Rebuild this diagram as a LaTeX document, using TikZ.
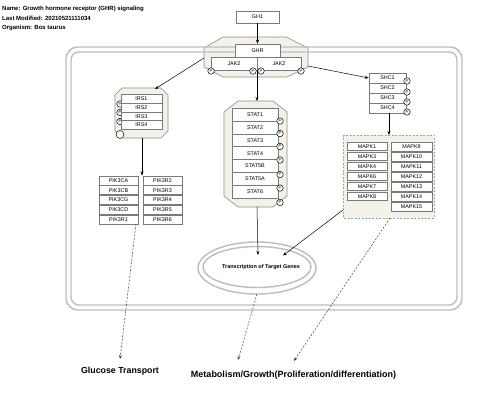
\documentclass[tikz,border=0pt]{standalone}
\usepackage{fontspec}
\setmainfont{Liberation Sans}
\usetikzlibrary{arrows.meta}
\definecolor{boxgray}{HTML}{7A7A7A}
\definecolor{cplxgray}{HTML}{8C8C8C}
\definecolor{cplxfill}{HTML}{F3F1E8}
\definecolor{cellgray}{HTML}{BDBDBD}
\begin{document}
\begin{tikzpicture}[x=1pt,y=-1pt,
  gbox/.style={draw=boxgray, fill=white, line width=0.5pt, inner sep=0pt, font=\fontsize{5.4}{6}\selectfont},
  pcirc/.style={circle, draw=black, fill=white, line width=0.5pt, minimum size=6.5pt, inner sep=0pt, font=\fontsize{4}{4}\selectfont},
  cplx/.style={draw=cplxgray, fill=cplxfill, line width=0.6pt},
  arr/.style={-{Stealth[length=4pt,width=3pt]}, line width=0.5pt},
  darr/.style={arr, dash pattern=on 2pt off 1.5pt, draw=black!75},
  cellline/.style={draw=cellgray, line width=1.4pt},
  hdr/.style={anchor=west, inner sep=0pt, font=\bfseries\fontsize{6}{7}\selectfont},
  outlbl/.style={inner sep=0pt, font=\bfseries\fontsize{8.8}{10}\selectfont},
  ]
\useasboundingbox (0,0) rectangle (480,403);
\fill[white] (0,0) rectangle (480,403);

% header
\node[hdr] (hname) at (2,9) {Name: Growth hormone receptor (GHR) signaling};
\node[hdr] (hmod) at (2,18.5) {Last Modified: 20210521111034};
\node[hdr] (horg) at (2,28) {Organism: Bos taurus};

% complexes (background)
\draw[cplx] (223,37) -- (286,37) -- (308,48) -- (308,67) -- (287,77) -- (223,77) -- (204,67) -- (204,48) -- cycle;
\draw[cplx] (122,88) -- (161,88) -- (168,95) -- (168,131) -- (161,138) -- (122,138) -- (115,131) -- (115,95) -- cycle;
\draw[cplx] (238,101) -- (273,101) -- (287,112) -- (287,196) -- (273,207) -- (238,207) -- (224,196) -- (224,112) -- cycle;
\draw[cplx, dash pattern=on 2pt off 1.5pt, draw=cplxgray!80] (343,135) rectangle (434,218);

% cell boundary (double line)
\draw[cellline, rounded corners=12pt] (66,47) rectangle (462,310);
\draw[cellline, rounded corners=8pt] (71,52) rectangle (457,305);

% nucleus-like ellipse
\draw[cellline] (257,268) ellipse [x radius=59pt, y radius=26pt];
\draw[cellline] (257,267) ellipse [x radius=54pt, y radius=20.5pt];
\node[inner sep=0pt, font=\bfseries\fontsize{5.5}{6}\selectfont] (tgt) at (261,267) {Transcription of Target Genes};

% GH1 / GHR / JAK2
\node[gbox, minimum width=43pt, minimum height=12pt] (GH1) at (257.5,17) {GH1};
\node[gbox, minimum width=45pt, minimum height=13pt] (GHR) at (257.5,50.5) {GHR};
\node[gbox, minimum width=46pt, minimum height=13pt] (JAKa) at (234,63.5) {JAK2};
\node[gbox, minimum width=44pt, minimum height=13pt] (JAKb) at (279,63.5) {JAK2};
\node[pcirc] (gp1) at (211,71) {P};
\node[pcirc] (gp2) at (253,71) {P};
\node[pcirc] (gp3) at (261,71) {P};
\node[pcirc] (gp4) at (301,71) {P};

% IRS
\node[pcirc] (ip1) at (120,104) {P};
\node[pcirc] (ip2) at (120,112.5) {P};
\node[pcirc] (ip3) at (120,121.5) {P};
\node[pcirc, minimum size=8pt] (ip4) at (120,134.5) {};
\foreach \t [count=\i from 0] in {IRS1,IRS2,IRS3,IRS4}
  \node[gbox, minimum width=41pt, minimum height=8.7pt] (\t) at (141.5,{99+8.7*\i}) {\t};

% STAT
\foreach \t [count=\i from 0] in {STAT1,STAT2,STAT3,STAT4,STAT5B,STAT5A,STAT6}
  \node[gbox, minimum width=46pt, minimum height=12.9pt] (\t) at (255,{114.5+12.9*\i}) {\t};
\foreach \yy [count=\i] in {121,133.5,146.5,160,174.5,188,202.5}
  \node[pcirc] (sp\i) at (280,\yy) {P};

% SHC
\foreach \t [count=\i from 0] in {SHC1,SHC2,SHC3,SHC4}
  \node[gbox, minimum width=37pt, minimum height=10pt] (\t) at (387.5,{78+10*\i}) {\t};
\foreach \yy [count=\i] in {81,92,102,112}
  \node[pcirc] (hp\i) at (407,\yy) {P};

% MAPK
\foreach \t [count=\i from 0] in {MAPK1,MAPK3,MAPK4,MAPK6,MAPK7,MAPK8}
  \node[gbox, minimum width=40pt, minimum height=8.5pt] (\t) at (367,{146.5+10*\i}) {\t};
\foreach \t [count=\i from 0] in {MAPK9,MAPK10,MAPK11,MAPK12,MAPK13,MAPK14,MAPK15}
  \node[gbox, minimum width=41pt, minimum height=9pt] (\t) at (411.5,{146.5+10*\i}) {\t};

% PIK3
\foreach \t [count=\i from 0] in {PIK3CA,PIK3CB,PIK3CG,PIK3CD,PIK3R1}
  \node[gbox, minimum width=39pt, minimum height=9pt] (\t) at (118.5,{180.5+9.7*\i}) {\t};
\foreach \t [count=\i from 0] in {PIK3R2,PIK3R3,PIK3R4,PIK3R5,PIK3R6}
  \node[gbox, minimum width=39pt, minimum height=9pt] (\t) at (162.5,{180.5+9.7*\i}) {\t};

% outside labels
\node[outlbl] (glu) at (120,371) {Glucose Transport};
\node[outlbl, font=\bfseries\fontsize{9}{10}\selectfont] (met) at (293.5,375) {Metabolism/Growth(Proliferation/differentiation)};

% anchor coordinates
\coordinate (ghrL) at (204,58);
\coordinate (ghrR) at (308,66);
\coordinate (ghrB) at (257,70);
\coordinate (irsT) at (155,89);
\coordinate (irsB) at (142,138);
\coordinate (pikT) at (142,175.5);
\coordinate (statT) at (257,101);
\coordinate (statB) at (257,207);
\coordinate (tgtA) at (258,255);
\coordinate (tgtB) at (283,255.5);
\coordinate (mapkT) at (389,135);
\coordinate (mapkL) at (343,210);
\coordinate (mapkB) at (390,218);
\coordinate (pikB) at (136,224);
\coordinate (ellB) at (257,294);
\coordinate (gluT) at (120,359);
\coordinate (metA) at (238,360);
\coordinate (metB) at (294,361);

% connectors
\draw[arr] (GH1) -- (GHR);
\draw[arr] (ghrL) -- (irsT);
\draw[arr] (ghrR) -- (SHC1.west);
\draw[arr] (ghrB) -- (statT);
\draw[arr] (irsB) -- (pikT);
\draw[arr] (SHC4.south -| mapkT) -- (mapkT);
\draw[arr] (statB) -- (tgtA);
\draw[arr] (mapkL) -- (tgtB);
\draw[darr] (pikB) -- (gluT);
\draw[darr] (ellB) -- (metA);
\draw[darr] (mapkB) -- (metB);
\end{tikzpicture}
\end{document}
